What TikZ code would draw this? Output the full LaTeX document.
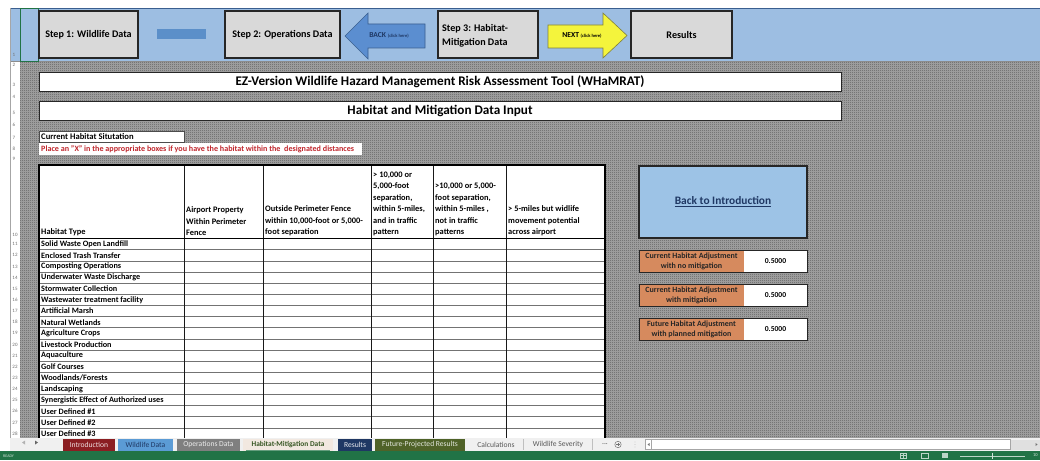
\documentclass[tikz,border=0pt]{standalone}
\usepackage{fontspec}
\setmainfont{Carlito}
\usetikzlibrary{patterns}
\pgfdeclarepatternformonly{finechecker}{\pgfpointorigin}{\pgfqpoint{2pt}{2pt}}{\pgfqpoint{2pt}{2pt}}{%
  \pgfpathrectangle{\pgfpointorigin}{\pgfqpoint{1pt}{1pt}}%
  \pgfpathrectangle{\pgfqpoint{1pt}{1pt}}{\pgfqpoint{1pt}{1pt}}%
  \pgfusepath{fill}}
\definecolor{band}{HTML}{9DBEE2}
\definecolor{stepgray}{HTML}{D9D9D9}
\definecolor{smallblue}{HTML}{5B8FC9}
\definecolor{backblue}{HTML}{5B8ED0}
\definecolor{backedge}{HTML}{3A5F8F}
\definecolor{nextyel}{HTML}{F4F43C}
\definecolor{nextedge}{HTML}{80803A}
\definecolor{sheetlight}{HTML}{A6A6A6}
\definecolor{sheetdark}{HTML}{5C5C5C}
\definecolor{introblue}{HTML}{9DC3E6}
\definecolor{navytext}{HTML}{1F3864}
\definecolor{adjorange}{HTML}{D68A5E}
\definecolor{redtext}{HTML}{C0272D}
\definecolor{numgray}{HTML}{6E6E6E}
\definecolor{xlgreen}{HTML}{217346}
\definecolor{tabred}{HTML}{8B1E22}
\definecolor{tabblue}{HTML}{5B9BD5}
\definecolor{tabgray}{HTML}{7F7F7F}
\definecolor{tabactive}{HTML}{F2E8E0}
\definecolor{tabnavy}{HTML}{1F3864}
\definecolor{tabolive}{HTML}{4F6228}
\definecolor{activegreen}{HTML}{375623}
\definecolor{barbg}{HTML}{F0F0F0}
\begin{document}
\begin{tikzpicture}[x=1pt,y=-1pt,
  stepbox/.style={draw=black!85, line width=1.1pt, fill=stepgray, inner sep=2pt,
    font=\fontsize{10.1}{14}\selectfont\bfseries},
  titlebox/.style={draw=black!85, line width=0.9pt, fill=white, minimum width=802pt,
    minimum height=18pt, font=\fontsize{13.2}{15}\selectfont\bfseries},
  hdr/.style={anchor=south west, align=left, inner sep=1pt,
    font=\fontsize{8.4}{11.4}\selectfont\bfseries},
  rowlbl/.style={anchor=west, inner sep=0pt, font=\fontsize{8.2}{9}\selectfont\bfseries},
  rownum/.style={inner sep=0pt, text=numgray, font=\fontsize{5}{6}\selectfont},
  adjlbl/.style={fill=adjorange, minimum width=105pt, minimum height=22pt, inner sep=0pt,
    align=center, font=\fontsize{8}{10}\selectfont\bfseries, text=black!85},
  adjval/.style={fill=white, minimum width=63pt, minimum height=22pt, inner sep=0pt,
    font=\fontsize{7.6}{9}\selectfont\bfseries},
  tab/.style={minimum height=12pt, inner sep=0pt, font=\fontsize{7.6}{8}\selectfont},
  grid/.style={draw=black!55, line width=0.5pt},
  vgrid/.style={draw=black!90, line width=0.8pt}
]
\useasboundingbox (0,0) rectangle (1040,460);
\fill[white] (0,0) rectangle (1040,460);
% sheet background
\fill[sheetlight] (20,61) rectangle (1040,438);
\fill[pattern=finechecker, pattern color=sheetdark] (20,61) rectangle (1040,438);
% top band
\fill[band] (10,8) rectangle (1040,61);
\draw[backedge, line width=0.8pt] (10,8) -- (1040,8);
\draw[black!45, line width=0.6pt] (10,61) -- (1040,61);
\draw[black!35, line width=0.5pt] (10.5,8) -- (10.5,452);
\draw[xlgreen, line width=0.6pt] (20,8.5) rectangle (38,61);
% row numbers
\node[rownum] (r1) at (14,55) {1};
\node[rownum] (r2) at (14,65) {2};
\node[rownum] (r3) at (14,85) {3};
\node[rownum] (r4) at (14,97) {4};
\node[rownum] (r5) at (14,113) {5};
\node[rownum] (r6) at (14,125) {6};
\node[rownum] (r7) at (14,138) {7};
\node[rownum] (r8) at (14,149) {8};
\node[rownum] (r9) at (14,159) {9};
\node[rownum] (r10) at (15,235) {10};
% navigation boxes
\node[stepbox, minimum width=99pt, minimum height=47pt] (s1) at (88.5,34.5) {Step 1: Wildlife Data};
\fill[smallblue] (157,29) rectangle (206,39);
\node[inner sep=0pt, minimum width=49pt, minimum height=10pt] (bar) at (181.5,34) {};
\node[stepbox, minimum width=115pt, minimum height=47pt] (s2) at (282.5,34.5) {Step 2: Operations Data};
\filldraw[fill=backblue, draw=backedge, line width=0.6pt]
  (345,36) -- (368,13) -- (368,24) -- (425,24) -- (425,48) -- (368,48) -- (368,59) -- cycle;
\node[inner sep=0pt, text=navytext] (back) at (389,35.5)
  {\fontsize{7.6}{8}\selectfont\bfseries BACK \fontsize{4.6}{5}\selectfont(click here)};
\node[stepbox, minimum width=100pt, minimum height=47pt] (s3) at (488,34.5) {};
\node[anchor=west, align=left, inner sep=0pt, font=\fontsize{10.1}{14}\selectfont\bfseries] (s3t)
  at (442,35.5) {Step 3: Habitat-\\Mitigation Data};
\filldraw[fill=nextyel, draw=nextedge, line width=0.6pt]
  (548,25) -- (603,25) -- (603,13) -- (627,35.5) -- (603,58) -- (603,48) -- (548,48) -- cycle;
\node[inner sep=0pt, text=black] (next) at (582,35.5)
  {\fontsize{7.6}{8}\selectfont\bfseries NEXT \fontsize{4.6}{5}\selectfont(click here)};
\node[stepbox, minimum width=101pt, minimum height=47pt] (res) at (681.5,34.5) {Results};
% titles
\node[titlebox] (t1) at (440,82) {EZ-Version Wildlife Hazard Management Risk Assessment Tool (WHaMRAT)};
\node[titlebox] (t2) at (440,111) {Habitat and Mitigation Data Input};
% current habitat
\node[draw=black!70, line width=0.5pt, fill=white, minimum width=145pt, minimum height=11pt,
  inner sep=0pt] (chbox) at (111.5,137) {};
\node[anchor=west, inner sep=0pt, font=\fontsize{8.6}{9}\selectfont\bfseries] (ch) at (41,137)
  {Current Habitat Situtation};
\fill[white] (39,143) rectangle (362,155);
\node[anchor=west, inner sep=0pt, text=redtext, font=\fontsize{8.1}{9}\selectfont\bfseries] (place)
  at (41,149) {Place an "X" in the appropriate boxes if you have the habitat within the\ \ designated distances};
% table
\fill[white] (39,165) rectangle (605,440);
\foreach \k in {1,...,18} {
  \draw[grid] (39,238.5+\k*11.14) -- (605,238.5+\k*11.14);
}
\foreach \xx in {184,263,371,433,506} {
  \draw[vgrid] (\xx,165) -- (\xx,440);
}
\draw[black, line width=1.1pt] (39,238.5) -- (605,238.5);
\draw[black, line width=1.2pt] (39,440) -- (39,165) -- (605,165) -- (605,440);
\node[hdr] (h1) at (40,237) {Habitat Type};
\node[hdr] (h2) at (185,237) {Airport Property\\Within Perimeter\\Fence};
\node[hdr] (h3) at (264,237) {Outside Perimeter Fence\\within 10,000-foot or 5,000-\\foot separation};
\node[hdr] (h4) at (372,237) {> 10,000 or\\5,000-foot\\separation,\\within 5-miles,\\and in traffic\\pattern};
\node[hdr] (h5) at (434,237) {>10,000 or 5,000-\\foot separation,\\within 5-miles ,\\not in traffic\\patterns};
\node[hdr] (h6) at (507,237) {> 5-miles but widlife\\movement potential\\across airport};
\foreach \t [count=\i from 0] in {Solid Waste Open Landfill, Enclosed Trash Transfer,
  Composting Operations, Underwater Waste Discharge, Stormwater Collection,
  Wastewater treatment facility, Artificial Marsh, Natural Wetlands, Agriculture Crops,
  Livestock Production, Aquaculture, Golf Courses, Woodlands/Forests, Landscaping,
  Synergistic Effect of Authorized uses, User Defined \#1, User Defined \#2, User Defined \#3} {
  \pgfmathtruncatemacro{\rn}{\i+11}
  \node[rowlbl] (row\i) at (41,244.2+\i*11.14) {\t};
  \node[rownum] (rn\i) at (15,244.2+\i*11.14) {\rn};
}
% back to introduction
\node[draw=black!85, line width=1.5pt, fill=introblue, minimum width=168pt, minimum height=72pt,
  text=navytext, font=\fontsize{11.4}{13}\selectfont\bfseries] (intro) at (723,202)
  {\underline{Back to Introduction}};
% adjustment boxes
\node[adjlbl] (a1) at (691.5,261) {Current Habitat Adjustment\\with no mitigation};
\node[adjval] (v1) at (775.5,261) {0.5000};
\draw[black!85, line width=0.9pt] (639,250) rectangle (807,272);
\node[adjlbl] (a2) at (691.5,295) {Current Habitat Adjustment\\with mitigation};
\node[adjval] (v2) at (775.5,295) {0.5000};
\draw[black!85, line width=0.9pt] (639,284) rectangle (807,306);
\node[adjlbl] (a3) at (691.5,329) {Future Habitat Adjustment\\with planned mitigation};
\node[adjval] (v3) at (775.5,329) {0.5000};
\draw[black!85, line width=0.9pt] (639,318) rectangle (807,340);
% tab bar
\fill[barbg] (10,438) rectangle (1040,451);
\fill[black!30] (22,442.5) -- (25,440.5) -- (25,444.5) -- cycle;
\fill[black!60] (38,442.5) -- (35,440.5) -- (35,444.5) -- cycle;
\node[tab, fill=tabred, text=white!85!tabred, minimum width=52pt] (tb1) at (89,444.5) {Introduction};
\node[tab, fill=tabblue, text=navytext, minimum width=55pt] (tb2) at (145.5,444.5) {Wildlife Data};
\node[tab, fill=tabgray, text=white!85!tabgray, minimum width=63pt] (tb3) at (208.5,444.5) {Operations Data};
\node[tab, fill=tabactive, text=activegreen, minimum width=90pt, font=\fontsize{7.4}{8}\selectfont\bfseries] (tb4) at (288,444.5) {Habitat-Mitigation Data};
\draw[xlgreen!70, line width=0.8pt] (246,450.3) -- (330,450.3);
\node[tab, fill=tabnavy, text=white!90!tabnavy, minimum width=34pt] (tb5) at (355,444.5) {Results};
\node[tab, fill=tabolive, text=white!85!tabolive, minimum width=90pt] (tb6) at (420,444.5) {Future-Projected Results};
\node[tab, text=black!65, minimum width=50pt] (tb7) at (496,444.5) {Calculations};
\node[tab, text=black!65, minimum width=65pt] (tb8) at (558,444.5) {Wildlife Severity};
\foreach \xx in {523,592} { \draw[black!25, line width=0.5pt] (\xx,439) -- (\xx,450); }
\node[tab, text=black!70] (dots) at (605,444) {...};
\draw[black!55, line width=0.5pt] (618,444.5) circle (3.2pt);
\draw[black!55, line width=0.5pt] (616.4,444.5) -- (619.6,444.5) (618,442.9) -- (618,446.1);
\foreach \yy in {442,444.5,447} { \fill[black!35] (635,\yy) circle (0.45pt); }
\fill[black!12] (1010,439.5) rectangle (1040,449.5);
\draw[black!35, fill=white, line width=0.5pt] (645,439.5) rectangle (1010,449.5);
\fill[black!55] (647.5,444.5) -- (649.5,443) -- (649.5,446) -- cycle;
\draw[black!35, line width=0.5pt] (651.5,440) -- (651.5,449);
\fill[black!55] (1037.5,444.5) -- (1035.5,443) -- (1035.5,446) -- cycle;
% status bar
\fill[xlgreen] (0,451) rectangle (1040,460);
\node[anchor=west, inner sep=0pt, text=white!80!xlgreen, font=\fontsize{4}{5}\selectfont] (ready) at (3,456) {READY};
\draw[white!70!xlgreen, line width=0.5pt] (900,453) rectangle (906,458) (903,453) -- (903,458) (900,455.5) -- (906,455.5);
\draw[white!70!xlgreen, line width=0.5pt] (921,453) rectangle (928,458);
\fill[white!70!xlgreen] (942,453) rectangle (948,458);
\draw[white!70!xlgreen, line width=0.5pt] (960,456) -- (1025,456);
\fill[white!80!xlgreen] (991.5,453) rectangle (993,459);
\node[anchor=west, inner sep=0pt, text=white!80!xlgreen, font=\fontsize{4.5}{5}\selectfont] (zoom) at (1033,455.5) {10};
\end{tikzpicture}
\end{document}
